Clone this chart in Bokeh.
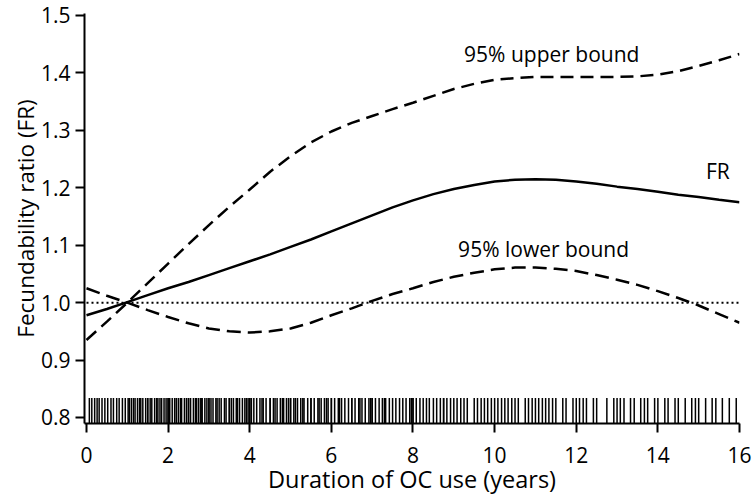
from bokeh.plotting import figure
from bokeh.models import Range1d, FixedTicker, Label
from bokeh.embed import file_html
from bokeh.resources import INLINE

# ---- data ----
x_years = [0, 0.5, 1, 1.5, 2, 2.5, 3, 3.5, 4, 4.5, 5, 5.5, 6, 6.5, 7, 7.5, 8,
           8.5, 9, 9.5, 10, 10.5, 11, 11.5, 12, 12.5, 13, 13.5, 14, 14.5, 15, 15.5, 16]
fr = [0.978, 0.989, 1.001, 1.013, 1.025, 1.036, 1.048, 1.060, 1.072, 1.084, 1.097,
      1.110, 1.124, 1.138, 1.152, 1.166, 1.178, 1.189, 1.198, 1.205, 1.211, 1.214,
      1.215, 1.214, 1.211, 1.207, 1.202, 1.198, 1.193, 1.188, 1.184, 1.179, 1.175]
upper = [0.935, 0.967, 1.000, 1.034, 1.068, 1.102, 1.135, 1.167, 1.197, 1.228, 1.255,
         1.279, 1.298, 1.313, 1.325, 1.337, 1.348, 1.360, 1.372, 1.381, 1.388, 1.391,
         1.393, 1.393, 1.393, 1.393, 1.393, 1.394, 1.397, 1.403, 1.412, 1.422, 1.433]
lower = [1.025, 1.012, 1.000, 0.987, 0.975, 0.964, 0.955, 0.950, 0.948, 0.950, 0.955,
         0.965, 0.978, 0.990, 1.003, 1.015, 1.025, 1.036, 1.045, 1.052, 1.058, 1.061,
         1.061, 1.059, 1.055, 1.048, 1.040, 1.031, 1.020, 1.008, 0.995, 0.980, 0.965]
reference_value = 1.0

rug = [0.07, 0.13, 0.2, 0.26, 0.31, 0.38, 0.45, 0.52, 0.6, 0.66, 0.74, 0.8, 0.88, 0.95,
       1.02, 1.05, 1.1, 1.15, 1.19, 1.25, 1.3, 1.33, 1.38, 1.45, 1.5, 1.5, 1.56, 1.6, 1.67, 1.72, 1.75, 1.8, 1.84, 1.9, 1.95,
       2.0, 2.0, 2.04, 2.1, 2.16, 2.2, 2.25, 2.3, 2.33, 2.4, 2.45, 2.5, 2.5, 2.55, 2.62, 2.67, 2.7, 2.75, 2.8, 2.83, 2.83, 2.9, 2.95,
       3.0, 3.0, 3.05, 3.1, 3.17, 3.2, 3.25, 3.3, 3.38, 3.42, 3.5, 3.5, 3.55, 3.6, 3.67, 3.7, 3.75, 3.82, 3.88, 3.92, 3.96,
       4.0, 4.0, 4.04, 4.1, 4.17, 4.25, 4.3, 4.33, 4.4, 4.5, 4.5, 4.58, 4.62, 4.67, 4.75, 4.8, 4.83, 4.9, 4.95,
       5.0, 5.0, 5.08, 5.12, 5.17, 5.25, 5.3, 5.33, 5.42, 5.5, 5.5, 5.58, 5.67, 5.7, 5.75, 5.83, 5.88, 5.92,
       6.0, 6.0, 6.08, 6.17, 6.2, 6.25, 6.33, 6.42, 6.5, 6.5, 6.58, 6.67, 6.7, 6.75, 6.83, 6.92, 6.96,
       7.0, 7.0, 7.08, 7.17, 7.25, 7.3, 7.33, 7.42, 7.5, 7.58, 7.67, 7.75, 7.83, 7.92, 7.96,
       8.0, 8.0, 8.08, 8.17, 8.25, 8.33, 8.4, 8.5, 8.58, 8.67, 8.75, 8.75, 8.83, 8.92,
       9.0, 9.08, 9.17, 9.25, 9.33, 9.5, 9.58, 9.67, 9.75, 9.83, 9.92,
       10.0, 10.08, 10.17, 10.25, 10.33, 10.42, 10.5, 10.58, 10.75, 10.83, 10.92,
       11.0, 11.08, 11.17, 11.25, 11.33, 11.42, 11.5, 11.67, 11.75, 11.92,
       12.0, 12.08, 12.17, 12.25, 12.42, 12.5, 12.75, 12.92,
       13.0, 13.08, 13.17, 13.33, 13.42, 13.58, 13.67, 13.75, 13.92,
       14.0, 14.17, 14.25, 14.42, 14.5, 14.67, 14.83, 14.92,
       15.0, 15.17, 15.33, 15.42, 15.58, 15.75, 15.92]

x_ticks = [0, 2, 4, 6, 8, 10, 12, 14, 16]
y_ticks = [0.8, 0.9, 1.0, 1.1, 1.2, 1.3, 1.4, 1.5]
y_tick_labels = ["0.8", "0.9", "1.0", "1.1", "1.2", "1.3", "1.4", "1.5"]

x_title = "Duration of OC use (years)"
y_title = "Fecundability ratio (FR)"
labels = [("95% upper bound", 11.4, 1.433), ("FR", 15.47, 1.229), ("95% lower bound", 11.2, 1.093)]

FONT = "Open Sans"

p = figure(width=754, height=497, output_backend="svg", toolbar_location=None,
           x_range=Range1d(-0.049, 16.0), y_range=Range1d(0.78955, 1.50348),
           min_border_left=84, min_border_right=15, min_border_top=13, min_border_bottom=74)
p.grid.visible = False
p.outline_line_color = None
p.background_fill_color = "white"

# rug
rug_bottom, rug_top = 0.78955, 0.834
p.segment(x0=rug, y0=[rug_bottom] * len(rug), x1=rug, y1=[rug_top] * len(rug),
          line_color="black", line_alpha=1.0, line_width=1.5)

# reference line
p.line(x=[x_ticks[0], x_ticks[-1]], y=[reference_value, reference_value],
       line_color="black", line_width=2, line_dash="2 3")

p.line(x=x_years, y=upper, line_color="black", line_width=2.5, line_dash="13 7")
p.line(x=x_years, y=lower, line_color="black", line_width=2.5, line_dash="14 7")
p.line(x=x_years, y=fr, line_color="black", line_width=2.5)

for txt, lx, ly in labels:
    p.add_layout(Label(x=lx, y=ly, text=txt, text_align="center", text_baseline="middle",
                       text_font=FONT, text_font_size="21px", text_color="black"))

for ax in (p.xaxis[0], p.yaxis[0]):
    ax.axis_line_width = 2
    ax.axis_line_color = "black"
    ax.major_tick_line_width = 2
    ax.major_tick_out = 9
    ax.major_tick_in = 0
    ax.minor_tick_line_color = None
    ax.major_label_text_font = FONT
    ax.major_label_text_font_size = "21px"
    ax.major_label_text_color = "black"
    ax.axis_label_text_font = FONT
    ax.axis_label_text_font_style = "normal"
    ax.axis_label_text_color = "black"

p.xaxis.ticker = FixedTicker(ticks=x_ticks)
p.yaxis.ticker = FixedTicker(ticks=y_ticks)
p.yaxis.major_label_overrides = {t: l for t, l in zip(y_ticks, y_tick_labels)}
p.xaxis.axis_label = x_title
p.yaxis.axis_label = y_title
p.xaxis.axis_label_text_font_size = "23.5px"
p.yaxis.axis_label_text_font_size = "22.5px"
p.xaxis.major_label_standoff = 14
p.yaxis.major_label_standoff = 5
p.xaxis.axis_label_standoff = -3
p.yaxis.axis_label_standoff = -3

open("out.html", "w").write(file_html(p, INLINE))
